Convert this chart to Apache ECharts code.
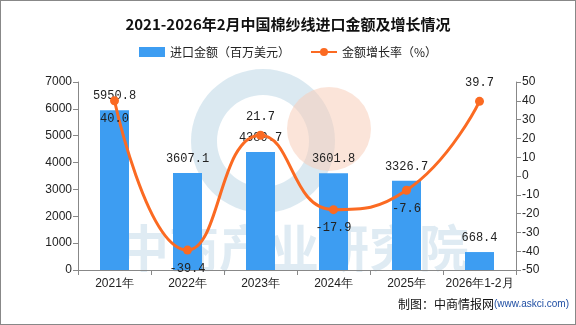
<!DOCTYPE html>
<html><head><meta charset="utf-8">
<script src="https://cdn.jsdelivr.net/npm/echarts@6/dist/echarts.min.js"></script>
<style>html,body{margin:0;padding:0;background:#fff}#c{width:576px;height:325px;box-sizing:border-box;border:1px solid #888}</style>
</head><body><div id="c"></div>
<script>
const categories = ['2021年','2022年','2023年','2024年','2025年','2026年1-2月'];
const amounts = [5950.8, 3607.1, 4389.7, 3601.8, 3326.7, 668.4];
const growth = [40.0, -39.4, 21.7, -17.9, -7.6, 39.7];
const growthLabelPos = ['bottom','bottom','top','bottom','bottom','top'];

const chart = echarts.init(document.getElementById('c'));
const axisFont = {color:'#222', fontSize:12, fontFamily:'Liberation Sans, Arial, sans-serif'};
chart.setOption({
  animation:false,
  title:{text:'2021-2026年2月中国棉纱线进口金额及增长情况', left:'center', top:11,
    textStyle:{fontSize:15, fontWeight:'bold', color:'#111', fontFamily:'Noto Sans CJK SC'}},
  legend:{top:40, left:'center', itemGap:20, itemWidth:26, itemHeight:10,
    textStyle:{fontSize:12, color:'#222', fontFamily:'Noto Sans CJK SC'},
    data:[{name:'进口金额（百万美元）', icon:'rect'},{name:'金额增长率（%）'}]},
  grid:{left:77, right:59, top:81, bottom:54},
  graphic:[
    {type:'ring', z:-1, shape:{cx:262, cy:140, r:72, r0:46}, style:{fill:'rgba(190,215,230,0.55)'}},
    {type:'circle', z:-1, shape:{cx:328, cy:128, r:42}, style:{fill:'rgba(248,205,185,0.55)'}},
    {type:'text', z:-1, left:118, top:222, style:{text:'中商产业研究院', fontSize:50, fontWeight:'bold', fill:'rgba(175,205,225,0.4)', fontFamily:'Noto Sans CJK SC'}},
    {type:'text', right:6, top:297, style:{
      text:'{a|制图：中商情报网}{b|(www.askci.com)}',
      rich:{a:{fontSize:12, fill:'#111', fontFamily:'Noto Sans CJK SC'}, b:{fontSize:10, fill:'#1f4ea3', fontFamily:'Liberation Sans, Arial'}}}}
  ],
  xAxis:{type:'category', data:categories, boundaryGap:true,
    axisLine:{lineStyle:{color:'#888'}}, axisTick:{show:true, alignWithLabel:false, lineStyle:{color:'#888'}},
    axisLabel:Object.assign({margin:8, interval:0}, axisFont)},
  yAxis:[
    {type:'value', min:0, max:7000, interval:1000, splitLine:{show:false},
      axisLine:{show:true, lineStyle:{color:'#888'}}, axisTick:{show:true, lineStyle:{color:'#888'}},
      axisLabel:Object.assign({margin:6, formatter:v=>String(v)}, axisFont)},
    {type:'value', min:-50, max:50, interval:10, splitLine:{show:false},
      axisLine:{show:true, lineStyle:{color:'#888'}}, axisTick:{show:true, lineStyle:{color:'#888'}},
      axisLabel:Object.assign({margin:6, formatter:v=>String(v)}, axisFont)}
  ],
  series:[
    {name:'进口金额（百万美元）', type:'bar', data:amounts, barWidth:29, itemStyle:{color:'#3d9df2'},
      label:{show:true, position:'top', distance:8, color:'#222', fontSize:12, fontFamily:'Liberation Mono, monospace'}},
    {name:'金额增长率（%）', type:'line', yAxisIndex:1, smooth:0.5, symbol:'circle', symbolSize:9,
      lineStyle:{color:'#fb6a22', width:3}, itemStyle:{color:'#fb6a22'},
      data:growth.map((v,i)=>({value:v, label:{position:growthLabelPos[i]}})),
      label:{show:true, distance:8, color:'#222', fontSize:12, fontFamily:'Liberation Mono, monospace', formatter:p=>p.value.toFixed(1)}}
  ]
});
</script></body></html>
